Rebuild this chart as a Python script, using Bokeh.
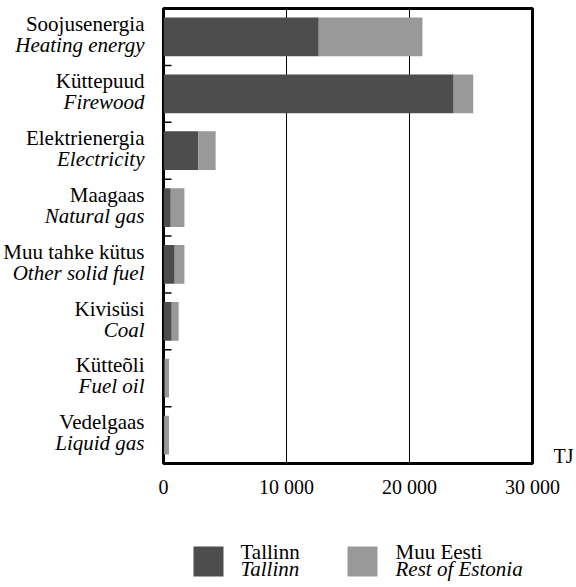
from bokeh.plotting import figure
from bokeh.layouts import column, row
from bokeh.models import ColumnDataSource, Range1d, FixedTicker, LinearAxis
from bokeh.core.properties import value
from bokeh.embed import file_html
from bokeh.resources import INLINE

# ---- data ----
cats_et = ["Soojusenergia", "Küttepuud", "Elektrienergia", "Maagaas",
           "Muu tahke kütus", "Kivisüsi", "Kütteõli", "Vedelgaas"]
cats_en = ["Heating energy", "Firewood", "Electricity", "Natural gas",
           "Other solid fuel", "Coal", "Fuel oil", "Liquid gas"]
tallinn = [12620, 23590, 2820, 590, 910, 670, 100, 50]
rest_of_estonia = [8430, 1590, 1420, 1110, 790, 560, 350, 400]
series_et = ["Tallinn", "Muu Eesti"]
series_en = ["Tallinn", "Rest of Estonia"]
x_ticks = [0, 10000, 20000, 30000]
x_tick_labels = ["0", "10 000", "20 000", "30 000"]
unit = "TJ"

DARK = "#4d4d4d"
LIGHT = "#999999"
FONT = "'Liberation Serif'"
colors = [DARK, LIGHT]

n = len(cats_et)
src = ColumnDataSource(dict(
    idx=list(range(n)),
    et=cats_et,
    en=cats_en,
    tallinn=tallinn,
    rest=rest_of_estonia,
))

TOP, BOTTOM = 8, 47
ROW_H = 510
LAB_W = 155
MAIN_W = 576 - LAB_W

y_range = Range1d(n - 0.5, -0.5)

# ---- main chart ----
p = figure(width=MAIN_W, height=ROW_H, output_backend="svg", toolbar_location=None,
           x_range=Range1d(0, 30000), y_range=y_range, y_axis_location=None,
           min_border_left=8, min_border_right=35, min_border_top=TOP,
           min_border_bottom=BOTTOM)
p.outline_line_color = "black"
p.outline_line_width = 3

p.hbar_stack(["tallinn", "rest"], y="idx", height=0.68, color=colors,
             line_color=None, source=src)

# short inner ticks at the category boundaries
p.scatter(x=[0] * (n - 1), y=[i + 0.5 for i in range(n - 1)], marker="dash",
          size=16, line_color="black", line_width=1.5)

p.xaxis.ticker = FixedTicker(ticks=x_ticks)
p.xaxis.major_label_overrides = {t: l for t, l in zip(x_ticks, x_tick_labels)}
p.xaxis.axis_line_color = None
p.xaxis.major_tick_line_color = None
p.xaxis.minor_tick_line_color = None
p.xaxis.major_label_standoff = 6
p.xaxis.major_label_text_font = FONT
p.xaxis.major_label_text_font_size = "20px"
p.xaxis.major_label_text_color = "black"

p.xgrid.ticker = FixedTicker(ticks=x_ticks)
p.xgrid.grid_line_color = "black"
p.xgrid.grid_line_width = 1
p.ygrid.grid_line_color = None

# unit label on the right, near the bottom edge
unit_pos = n - 0.5 - 0.14
ax_r = LinearAxis(ticker=FixedTicker(ticks=[unit_pos]),
                  major_label_overrides={unit_pos: unit},
                  axis_line_color=None, major_tick_line_color=None,
                  minor_tick_line_color=None, major_label_standoff=15,
                  major_label_text_font=FONT, major_label_text_font_size="20px",
                  major_label_text_color="black")
p.add_layout(ax_r, "right")

# ---- category labels (left) ----
lab = figure(width=LAB_W, height=ROW_H, output_backend="svg", toolbar_location=None,
             x_range=Range1d(0, 1), y_range=y_range,
             x_axis_location=None, y_axis_location=None,
             min_border_left=0, min_border_right=0, min_border_top=TOP,
             min_border_bottom=BOTTOM)
lab.outline_line_color = None
lab.grid.visible = False
lab.text(x=1, y="idx", text="et", source=src, x_offset=-11, y_offset=-12.8,
         text_align="right", text_baseline="alphabetic",
         text_font=value(FONT), text_font_size="21px", text_color="black")
lab.text(x=1, y="idx", text="en", source=src, x_offset=-11, y_offset=8.2,
         text_align="right", text_baseline="alphabetic",
         text_font=value(FONT), text_font_size="21px", text_font_style="italic",
         text_color="black")

# ---- legend (bottom) ----
LEG_H = 587 - ROW_H
leg = figure(width=576, height=LEG_H, output_backend="svg", toolbar_location=None,
             x_range=Range1d(0, 576), y_range=Range1d(LEG_H, 0),
             x_axis_location=None, y_axis_location=None,
             min_border=0)
leg.outline_line_color = None
leg.grid.visible = False
sw_x = [208, 362]
tx_x = [240, 395]
leg.scatter(x=sw_x, y=[51, 51], marker="square", size=30, fill_color=colors,
            line_color=None)
leg.text(x=tx_x, y=[41.5, 41.5], text=series_et, text_baseline="alphabetic",
         text_font=value(FONT), text_font_size="21px", text_color="black")
leg.text(x=tx_x, y=[58.5, 58.5], text=series_en, text_baseline="alphabetic",
         text_font=value(FONT), text_font_size="21px", text_font_style="italic",
         text_color="black")

layout = column(row(lab, p), leg)
open("out.html", "w").write(file_html(layout, INLINE))
